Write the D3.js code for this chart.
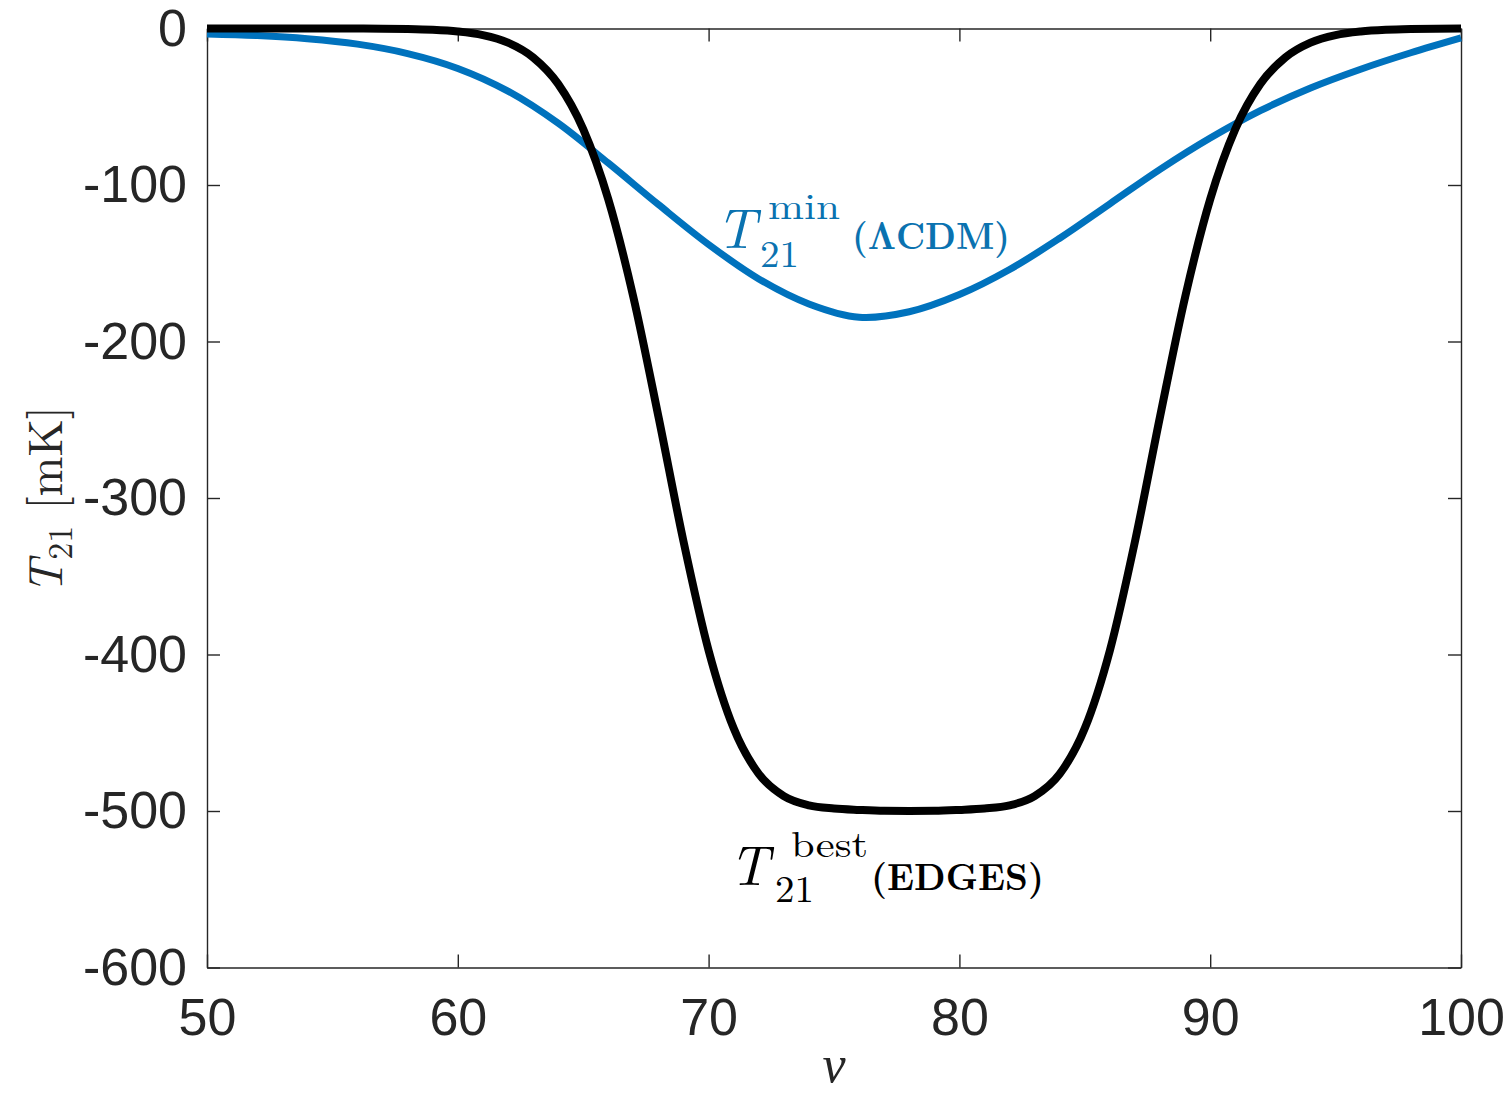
<!DOCTYPE html>
<html>
<head>
<meta charset="utf-8">
<script src="https://cdn.jsdelivr.net/npm/d3@7"></script>
<style>
  html, body { margin: 0; padding: 0; background: #ffffff; }
  svg { display: block; }
</style>
</head>
<body>
<svg id="chart" width="1512" height="1097"></svg>
<script>
// ---- data ----
const xTicks = [50, 60, 70, 80, 90, 100];
const yTicks = [0, -100, -200, -300, -400, -500, -600];

// T21 best fit (EDGES), frequency nu
const edgesNu = [50,51,52,53,54,55,56,57,58,59,60,61,62,63,64,65,66,67,68,69,70,71,72,73,74,75,
                 76,77,78,79,80,81,82,83,84,85,86,87,88,89,90,91,92,93,94,95,96,97,98,99,100];
const edgesT  = [0,0,0,0,0,0,-0.05,-0.1,-0.3,-0.8,-1.9,-4.2,-9.0,-18.4,-35.4,-64.3,-109.1,-171.6,-248.0,-327.8,-397.4,-447.2,-476.3,-490.5,-496.4,-498.4,
                 -499.3,-499.9,-500,-499.9,-499.3,-498.4,-496.4,-490.5,-476.3,-447.2,-397.4,-327.8,-248.0,-171.6,-109.1,-64.3,-35.4,-18.4,-9.0,-4.2,-1.9,-0.8,-0.3,-0.1,-0.05];

// T21 minimum (LambdaCDM)
const lcdmNu = [50,52,54,56,58,60,62,64,66,68,70,72,74,76,78,80,82,84,86,88,90,92,94,96,98,100];
const lcdmT  = [-3.5,-4.5,-6.5,-10,-16,-25.5,-40,-60.5,-86,-112.5,-138,-160,-176,-184.5,-181,-170,-154,-134,-112,-90,-70,-52.5,-38,-26,-15.5,-6];

// ---- drawing ----
const svg = d3.select("#chart");
svg.append("rect").attr("width", 1512).attr("height", 1097).attr("fill", "#ffffff");

const x = d3.scaleLinear().domain([50, 100]).range([207, 1461]);
const y = d3.scaleLinear().domain([-600, 0]).range([967.5, 28.5]);

const axisColor = "#262626";
const tickFont = "'Liberation Sans', Arial, Helvetica, sans-serif";

function styleAxis(g) {
  g.select(".domain").attr("stroke", axisColor).attr("stroke-width", 1.4);
  g.selectAll(".tick line").attr("stroke", axisColor).attr("stroke-width", 1.4);
  g.selectAll(".tick text").attr("fill", axisColor)
    .style("font-family", tickFont).style("font-size", "52px");
}

// bottom
svg.append("g").attr("transform", `translate(0,${y(-600)})`)
  .call(d3.axisBottom(x).tickValues(xTicks).tickFormat(d3.format("d"))
        .tickSizeInner(-13).tickSizeOuter(0).tickPadding(31))
  .call(styleAxis);
// top
svg.append("g").attr("transform", `translate(0,${y(0)})`)
  .call(d3.axisTop(x).tickValues(xTicks).tickFormat("")
        .tickSizeInner(-13).tickSizeOuter(0))
  .call(styleAxis);
// left
svg.append("g").attr("transform", `translate(${x(50)},0)`)
  .call(d3.axisLeft(y).tickValues(yTicks).tickFormat(d3.format("d"))
        .tickSizeInner(-13).tickSizeOuter(0).tickPadding(20))
  .call(styleAxis);
// right
svg.append("g").attr("transform", `translate(${x(100)},0)`)
  .call(d3.axisRight(y).tickValues(yTicks).tickFormat("")
        .tickSizeInner(-13).tickSizeOuter(0))
  .call(styleAxis);

// plain hyphen minus as in reference
svg.selectAll(".tick text").text(function() { return d3.select(this).text().replace("\u2212", "-"); });

const blueLine = d3.line().x(d => x(d[0])).y(d => y(d[1])).curve(d3.curveCatmullRom.alpha(0.5));
const blackLine = d3.line().x(d => x(d[0])).y(d => y(d[1])).curve(d3.curveMonotoneX);

svg.append("path")
  .datum(lcdmNu.map((v, i) => [v, lcdmT[i]]))
  .attr("d", blueLine).attr("fill", "none")
  .attr("stroke", "#0072BD").attr("stroke-width", 7);

svg.append("path")
  .datum(edgesNu.map((v, i) => [v, edgesT[i]]))
  .attr("d", blackLine).attr("fill", "none")
  .attr("stroke", "#000000").attr("stroke-width", 8);

const serif = "'Latin Modern Roman', 'CMU Serif', 'Liberation Serif', 'DejaVu Serif', serif";

// y label
const yl = svg.append("text")
  .attr("transform", "translate(62,500) rotate(-90)")
  .attr("text-anchor", "middle")
  .style("font-family", serif).style("font-size", "48px").attr("fill", axisColor);
yl.append("tspan").style("font-style", "italic").text("T");
yl.append("tspan").attr("dy", 10).style("font-size", "34px").text("21");
yl.append("tspan").attr("dy", -10).attr("dx", 16).text("[mK]");

// x label
svg.append("text").attr("x", 834).attr("y", 1082).attr("text-anchor", "middle")
  .style("font-family", serif).style("font-size", "52px").style("font-style", "italic")
  .attr("fill", axisColor).text("ν");

// annotation helper: T with superscript and subscript
function annot(opts) {
  const t = svg.append("text")
    .style("font-family", serif).attr("fill", opts.color);
  t.append("tspan").attr("x", opts.tx).attr("y", opts.ty)
    .style("font-size", "56px").style("font-style", "italic").text("T");
  t.append("tspan").attr("x", opts.supx).attr("y", opts.supy)
    .attr("textLength", opts.supw).attr("lengthAdjust", "spacingAndGlyphs")
    .style("font-size", "37px").text(opts.sup);
  t.append("tspan").attr("x", opts.subx).attr("y", opts.suby)
    .attr("textLength", 39).attr("lengthAdjust", "spacingAndGlyphs")
    .style("font-size", "37px").text("21");
  t.append("tspan").attr("x", opts.lx).attr("y", opts.ly)
    .attr("textLength", opts.lw).attr("lengthAdjust", "spacingAndGlyphs")
    .style("font-size", "38px").style("font-weight", "bold").text(opts.label);
}

annot({color: "#0a72b0", tx: 716, ty: 248, sup: "min", supx: 768, supy: 219, supw: 72,
       subx: 760, suby: 267, label: "(ΛCDM)", lx: 852, ly: 249, lw: 158});
annot({color: "#000000", tx: 729, ty: 885, sup: "best", supx: 791, supy: 857, supw: 77,
       subx: 775, suby: 902, label: "(EDGES)", lx: 871, ly: 890, lw: 173});
</script>
</body>
</html>
